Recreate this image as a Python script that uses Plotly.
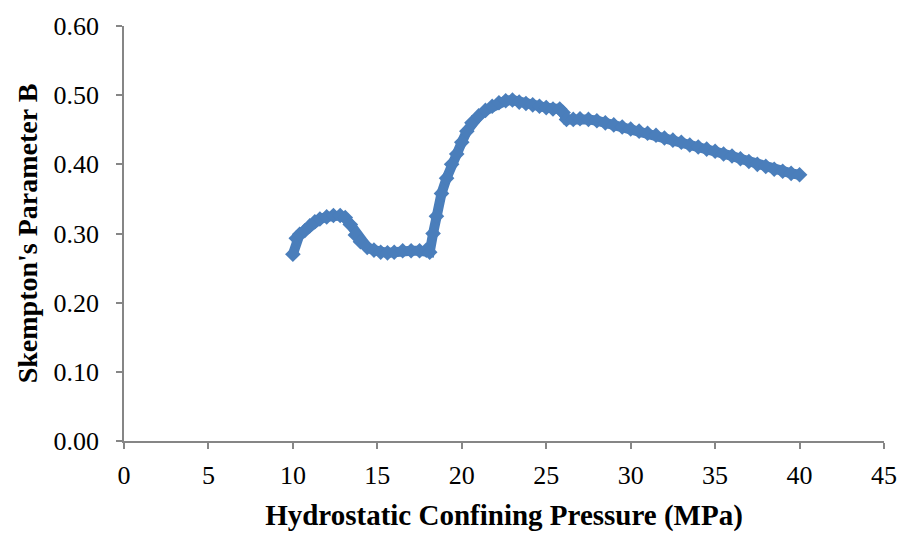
import plotly.graph_objects as go

pressure = [10.0, 10.2, 10.4, 10.7, 11.0, 11.3, 11.6, 12.0, 12.4, 12.8, 13.1, 13.4, 13.7, 14.0,
            14.4, 14.8, 15.2, 15.6, 16.0, 16.5, 17.0, 17.5, 17.9, 18.1, 18.3, 18.5, 18.8, 19.1,
            19.4, 19.7, 20.0, 20.3, 20.6, 21.0, 21.4, 21.8, 22.2, 22.6, 23.0, 23.4, 23.8, 24.2,
            24.6, 25.0, 25.4, 25.8, 26.0, 26.2, 26.6, 27.0, 27.5, 28.0, 28.5, 29.0, 29.5, 30.0,
            30.5, 31.0, 31.5, 32.0, 32.5, 33.0, 33.5, 34.0, 34.5, 35.0, 35.5, 36.0, 36.5, 37.0,
            37.5, 38.0, 38.5, 39.0, 39.5, 40.0]
skempton_b = [0.270, 0.293, 0.299, 0.304, 0.311, 0.317, 0.321, 0.324, 0.326, 0.326, 0.323, 0.313,
              0.298, 0.288, 0.280, 0.276, 0.273, 0.272, 0.273, 0.275, 0.275, 0.275, 0.276, 0.273,
              0.300, 0.325, 0.358, 0.380, 0.400, 0.415, 0.432, 0.448, 0.460, 0.470, 0.478, 0.484,
              0.489, 0.492, 0.493, 0.490, 0.488, 0.486, 0.484, 0.482, 0.480, 0.480, 0.475, 0.465,
              0.465, 0.466, 0.465, 0.463, 0.460, 0.457, 0.454, 0.451, 0.448, 0.445, 0.442, 0.438,
              0.435, 0.432, 0.428, 0.425, 0.422, 0.419, 0.415, 0.412, 0.408, 0.404, 0.400, 0.397,
              0.393, 0.390, 0.387, 0.385]

x_ticks = [0, 5, 10, 15, 20, 25, 30, 35, 40, 45]
y_ticks = [0.0, 0.1, 0.2, 0.3, 0.4, 0.5, 0.6]

color = "#4A7EBB"
fig = go.Figure()
fig.add_trace(go.Scatter(
    x=pressure, y=skempton_b, mode="lines+markers",
    line=dict(color=color, width=10),
    marker=dict(symbol="diamond", size=12, color=color),
    showlegend=False,
))

font_family = "Liberation Serif, Times New Roman, serif"
fig.update_layout(
    width=909, height=539,
    margin=dict(l=124, r=25, t=20, b=98),
    paper_bgcolor="white", plot_bgcolor="white",
    font=dict(family=font_family, size=26, color="black"),
)
fig.update_xaxes(
    range=[0, 45], tickvals=x_ticks, ticktext=[str(t) for t in x_ticks],
    showgrid=False, zeroline=False, showline=True, linecolor="#868686", linewidth=1.5,
    ticks="outside", tickcolor="#868686", ticklen=6, tickwidth=1.5,
    title=dict(text="<b>Hydrostatic Confining Pressure (MPa)</b>", font=dict(size=29, family=font_family), standoff=16),
    tickfont=dict(size=26, family=font_family),
    ticklabelstandoff=4,
)
fig.update_yaxes(
    range=[0, 0.6], tickvals=y_ticks, ticktext=[f"{t:.2f}" for t in y_ticks],
    showgrid=False, zeroline=False, showline=True, linecolor="#868686", linewidth=1.5,
    ticks="outside", tickcolor="#868686", ticklen=6, tickwidth=1.5,
    title=dict(text="<b>Skempton's Parameter B</b>", font=dict(size=28, family=font_family), standoff=8),
    tickfont=dict(size=26, family=font_family),
    ticklabelstandoff=12,
)
fig.write_html("out.html")
